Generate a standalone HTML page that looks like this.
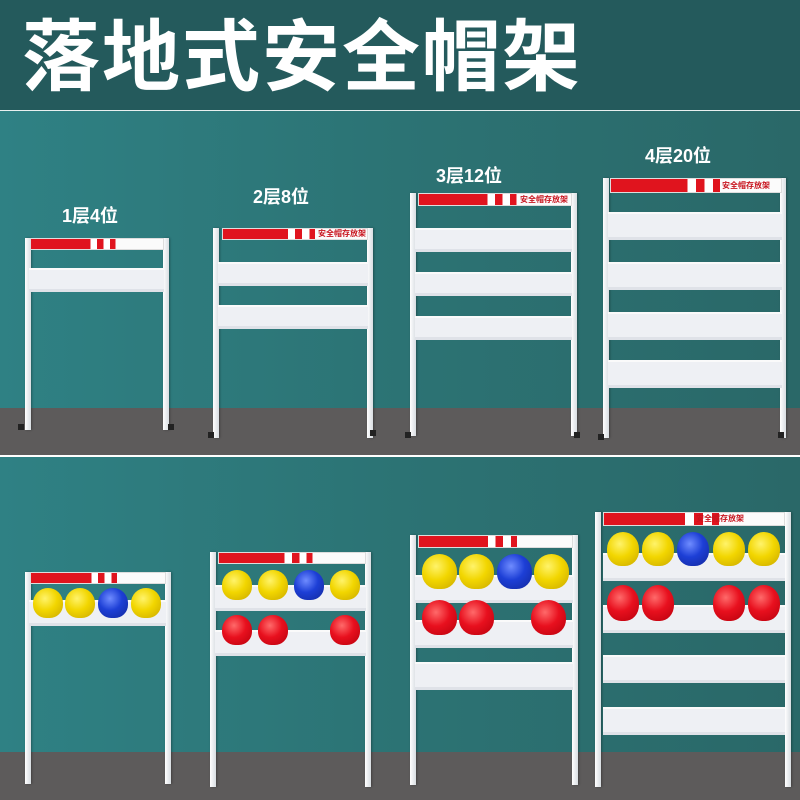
<!DOCTYPE html>
<html><head><meta charset="utf-8"><style>
*{margin:0;padding:0;box-sizing:border-box}
body{width:800px;height:800px;position:relative;overflow:hidden;font-family:"Liberation Sans","Noto Sans CJK SC",sans-serif}
div{position:absolute}
.bg1{left:0;top:111px;width:800px;height:344px;background:linear-gradient(90deg,#2f8184,#2c7374 50%,#2a6868)}
.bg2{left:0;top:457px;width:800px;height:343px;background:linear-gradient(90deg,#2f8184,#2c7374 50%,#2a6868)}
.fl{left:0;width:800px;background:#5d5b5b}
.p{width:6px;background:linear-gradient(90deg,#fff,#d8dde2);box-shadow:1px 0 2px rgba(0,0,0,.3)}
.ft{width:6px;height:6px;background:#222}
.h{background:linear-gradient(90deg,#e0141e 0,#e0141e 45%,#fff 45%,#fff 50%,#e0141e 50%,#e0141e 55%,#fff 55%,#fff 60%,#e0141e 60%,#e0141e 64%,#fbfbfb 64%);border:1px solid #ddd}
.ht{color:#c8141e;font-size:8px;font-weight:bold;white-space:nowrap;line-height:10px}
.s{background:#eef0f4;border-bottom:3px solid #dfe2e8;border-top:2px solid #fafafa}
.hm{border-radius:50% 50% 44% 44%}
.Y{background:radial-gradient(circle at 40% 35%,#fff36a,#f2d600 45%,#c9a800)}
.R{background:radial-gradient(circle at 40% 35%,#ff6a6a,#e8101e 45%,#b8000c)}
.B{background:radial-gradient(circle at 40% 35%,#6f8cff,#1d3fd6 45%,#12289c)}
.lb{color:#fff;font-weight:bold;font-size:18px;white-space:nowrap}
</style></head><body>
<div style="left:0;top:0;width:800px;height:110px;background:#245a5c"></div>
<div style="left:0;top:110px;width:800px;height:1px;background:#e8f0f0"></div>
<div style="left:22px;top:14px;font-size:78px;font-weight:bold;color:#fff;letter-spacing:2px;line-height:86px;white-space:nowrap">落地式安全帽架</div>
<div class="bg1"></div>
<div class="fl" style="top:408px;height:47px"></div>
<div style="left:0;top:455px;width:800px;height:2px;background:#fff"></div>
<div class="bg2"></div>
<div class="fl" style="top:752px;height:48px"></div>

<div class="lb" style="left:62px;top:202px">1层4位</div>
<div class="lb" style="left:253px;top:183px">2层8位</div>
<div class="lb" style="left:436px;top:162px">3层12位</div>
<div class="lb" style="left:645px;top:142px">4层20位</div>

<div class="p" style="left:25px;top:238px;height:192px"></div>
<div class="p" style="left:163px;top:238px;height:192px"></div>
<div class="h" style="left:30px;top:238px;width:134px;height:12px"></div>
<div class="s" style="left:29px;top:268px;width:135px;height:24px"></div>
<div class="ft" style="left:18px;top:424px"></div><div class="ft" style="left:168px;top:424px"></div>

<div class="p" style="left:213px;top:228px;height:210px"></div>
<div class="p" style="left:367px;top:228px;height:210px"></div>
<div class="h" style="left:222px;top:228px;width:146px;height:12px"></div>
<div class="ht" style="left:318px;top:229px">安全帽存放架</div>
<div class="s" style="left:218px;top:262px;width:150px;height:24px"></div>
<div class="s" style="left:218px;top:305px;width:150px;height:24px"></div>
<div class="ft" style="left:208px;top:432px"></div><div class="ft" style="left:370px;top:430px"></div>

<div class="p" style="left:410px;top:193px;height:243px"></div>
<div class="p" style="left:571px;top:193px;height:243px"></div>
<div class="h" style="left:418px;top:193px;width:154px;height:13px"></div>
<div class="ht" style="left:520px;top:195px">安全帽存放架</div>
<div class="s" style="left:415px;top:228px;width:157px;height:24px"></div>
<div class="s" style="left:415px;top:272px;width:157px;height:24px"></div>
<div class="s" style="left:415px;top:316px;width:157px;height:24px"></div>
<div class="ft" style="left:405px;top:432px"></div><div class="ft" style="left:574px;top:432px"></div>

<div class="p" style="left:603px;top:178px;height:260px"></div>
<div class="p" style="left:780px;top:178px;height:260px"></div>
<div class="h" style="left:610px;top:178px;width:172px;height:15px"></div>
<div class="ht" style="left:722px;top:181px">安全帽存放架</div>
<div class="s" style="left:608px;top:212px;width:174px;height:28px"></div>
<div class="s" style="left:608px;top:262px;width:174px;height:28px"></div>
<div class="s" style="left:608px;top:312px;width:174px;height:28px"></div>
<div class="s" style="left:608px;top:360px;width:174px;height:28px"></div>
<div class="ft" style="left:598px;top:434px"></div><div class="ft" style="left:778px;top:432px"></div>

<div class="p" style="left:25px;top:572px;height:212px"></div>
<div class="p" style="left:165px;top:572px;height:212px"></div>
<div class="h" style="left:30px;top:572px;width:136px;height:12px"></div>
<div class="s" style="left:29px;top:600px;width:137px;height:26px"></div>
<div class="hm Y" style="left:33px;top:588px;width:30px;height:30px"></div>
<div class="hm Y" style="left:65px;top:588px;width:30px;height:30px"></div>
<div class="hm B" style="left:98px;top:588px;width:30px;height:30px"></div>
<div class="hm Y" style="left:131px;top:588px;width:30px;height:30px"></div>

<div class="p" style="left:210px;top:552px;height:235px"></div>
<div class="p" style="left:365px;top:552px;height:235px"></div>
<div class="h" style="left:218px;top:552px;width:148px;height:12px"></div>
<div class="s" style="left:215px;top:585px;width:151px;height:26px"></div>
<div class="s" style="left:215px;top:630px;width:151px;height:26px"></div>
<div class="hm Y" style="left:222px;top:570px;width:30px;height:30px"></div>
<div class="hm Y" style="left:258px;top:570px;width:30px;height:30px"></div>
<div class="hm B" style="left:294px;top:570px;width:30px;height:30px"></div>
<div class="hm Y" style="left:330px;top:570px;width:30px;height:30px"></div>
<div class="hm R" style="left:222px;top:615px;width:30px;height:30px"></div>
<div class="hm R" style="left:258px;top:615px;width:30px;height:30px"></div>
<div class="hm R" style="left:330px;top:615px;width:30px;height:30px"></div>

<div class="p" style="left:410px;top:535px;height:250px"></div>
<div class="p" style="left:572px;top:535px;height:250px"></div>
<div class="h" style="left:418px;top:535px;width:155px;height:13px"></div>
<div class="s" style="left:415px;top:575px;width:158px;height:28px"></div>
<div class="s" style="left:415px;top:620px;width:158px;height:28px"></div>
<div class="s" style="left:415px;top:662px;width:158px;height:28px"></div>
<div class="hm Y" style="left:422px;top:554px;width:35px;height:35px"></div>
<div class="hm Y" style="left:459px;top:554px;width:35px;height:35px"></div>
<div class="hm B" style="left:497px;top:554px;width:35px;height:35px"></div>
<div class="hm Y" style="left:534px;top:554px;width:35px;height:35px"></div>
<div class="hm R" style="left:422px;top:600px;width:35px;height:35px"></div>
<div class="hm R" style="left:459px;top:600px;width:35px;height:35px"></div>
<div class="hm R" style="left:531px;top:600px;width:35px;height:35px"></div>

<div class="p" style="left:595px;top:512px;height:275px"></div>
<div class="p" style="left:785px;top:512px;height:275px"></div>
<div class="h" style="left:603px;top:512px;width:182px;height:14px"></div>
<div class="ht" style="left:696px;top:514px">安全帽存放架</div>
<div class="s" style="left:603px;top:553px;width:182px;height:28px"></div>
<div class="s" style="left:603px;top:605px;width:182px;height:28px"></div>
<div class="s" style="left:603px;top:655px;width:182px;height:28px"></div>
<div class="s" style="left:603px;top:707px;width:182px;height:28px"></div>
<div class="hm Y" style="left:607px;top:532px;width:32px;height:34px"></div>
<div class="hm Y" style="left:642px;top:532px;width:32px;height:34px"></div>
<div class="hm B" style="left:677px;top:532px;width:32px;height:34px"></div>
<div class="hm Y" style="left:713px;top:532px;width:32px;height:34px"></div>
<div class="hm Y" style="left:748px;top:532px;width:32px;height:34px"></div>
<div class="hm R" style="left:607px;top:585px;width:32px;height:36px"></div>
<div class="hm R" style="left:642px;top:585px;width:32px;height:36px"></div>
<div class="hm R" style="left:713px;top:585px;width:32px;height:36px"></div>
<div class="hm R" style="left:748px;top:585px;width:32px;height:36px"></div>
</body></html>
